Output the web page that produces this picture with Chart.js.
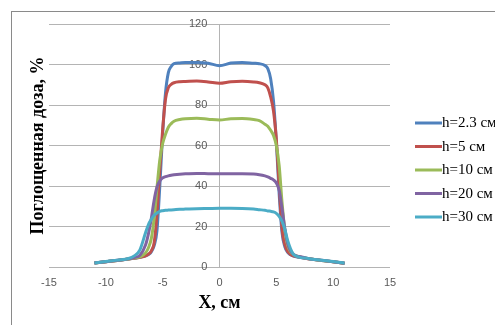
<!DOCTYPE html>
<html>
<head>
<meta charset="utf-8">
<script src="https://cdn.jsdelivr.net/npm/chart.js@4"></script>
<style>
  html, body { margin: 0; padding: 0; background: #ffffff; overflow: hidden; }
  #wrap { position: relative; width: 495px; height: 325px; }
</style>
</head>
<body>
<div id="wrap"><canvas id="doseChart" width="495" height="325"></canvas></div>
<script>
// position across the field, cm
const xValues = [-11, -10, -9, -8, -7.5, -7, -6.5, -6.25, -6, -5.75, -5.5, -5.25, -5, -4.75, -4.5, -4.25, -4, -3.5, -3, -2, -1,
  0, 1, 2, 3, 3.5, 4, 4.25, 4.5, 4.75, 5, 5.25, 5.5, 5.75, 6, 6.25, 6.5, 7, 7.5, 8, 9, 10, 11];

const seriesLabels = ['h=2.3 см', 'h=5 см', 'h=10 см', 'h=20 см', 'h=30 см'];
const seriesColors = ['#4f81bd', '#c0504d', '#9bbb59', '#8064a2', '#4bacc6'];

// absorbed dose, %
const dose23 = [2.0, 2.6, 3.2, 3.9, 4.3, 4.8, 5.5, 6.2, 7.5, 10.5, 18, 40, 66, 86, 96, 99, 100.4, 100.8, 101, 101, 100.6,
  99.4, 100.7, 101, 100.6, 100.4, 99.5, 98, 93, 82, 62, 36, 17, 10, 7.2, 6, 5.4, 4.8, 4.3, 3.9, 3.2, 2.6, 1.9];
const dose5 = [2.0, 2.6, 3.2, 3.9, 4.3, 4.8, 5.5, 6.3, 8, 12, 26, 48, 68, 83, 88.5, 90.2, 91, 91.5, 91.6, 91.8, 91.4,
  90.7, 91.5, 91.7, 91.4, 91, 90, 88.5, 84, 77, 63, 40, 19, 11, 7.6, 6.2, 5.5, 4.9, 4.4, 3.9, 3.2, 2.6, 1.9];
const dose10 = [2.0, 2.6, 3.2, 3.9, 4.4, 5.0, 7, 9.5, 14, 24, 39, 53, 61, 65.5, 69, 70.8, 72, 72.8, 73.2, 73.4, 73,
  72.6, 73.2, 73.3, 72.8, 72.3, 70.5, 69.5, 67.5, 65, 60, 50, 32, 18, 10.5, 7.5, 6.2, 5.1, 4.5, 4.0, 3.2, 2.6, 1.9];
const dose20 = [2.0, 2.6, 3.3, 4.0, 4.7, 5.8, 11, 16.5, 24, 33, 39.5, 42.5, 44, 44.6, 45, 45.3, 45.5, 45.8, 46, 46.2, 46.1,
  46, 46, 46, 45.9, 45.6, 45, 44.5, 43.8, 43, 41.5, 38, 29, 19, 11.5, 8, 6.2, 5.2, 4.6, 4.0, 3.3, 2.6, 1.9];
const dose30 = [2.0, 2.7, 3.4, 4.2, 5.5, 8.5, 17, 21, 23.5, 25.5, 26.7, 27.5, 27.8, 28, 28.1, 28.2, 28.3, 28.5, 28.6, 28.8, 28.9,
  29, 29, 28.9, 28.6, 28.3, 28, 27.7, 27.5, 27.2, 26.5, 25, 22.5, 18.5, 13, 9, 6.3, 4.9, 4.4, 4.0, 3.3, 2.7, 1.9];

const xTickValues = [-15, -10, -5, 0, 5, 10, 15];
const yTickValues = [0, 20, 40, 60, 80, 100, 120];

const allDoses = [dose23, dose5, dose10, dose20, dose30];

const tickFont = { family: 'Liberation Sans', size: 11 };
const gridColor = '#b4b4b4';

// outer frame and the legend on the right
const framePlugin = {
    id: 'frame',
    beforeDraw(chart) {
        const ctx = chart.ctx;
        ctx.save();
        ctx.strokeStyle = '#8a8a8a';
        ctx.lineWidth = 1;
        ctx.strokeRect(11.5, 11.5, 700, 500);
        ctx.restore();
    },
    afterDraw(chart) {
        const ctx = chart.ctx;
        ctx.save();
        ctx.font = '15px "Liberation Serif"';
        ctx.textBaseline = 'middle';
        ctx.fillStyle = '#000000';
        seriesLabels.forEach((label, i) => {
            const y = 123 + i * 23.5;
            ctx.strokeStyle = seriesColors[i];
            ctx.lineWidth = 3;
            ctx.beginPath();
            ctx.moveTo(415, y);
            ctx.lineTo(442, y);
            ctx.stroke();
            ctx.fillText(label, 442, y + 0.5);
        });
        ctx.restore();
    }
};

const datasets = seriesLabels.map((label, i) => ({
    label: label,
    data: xValues.map((x, j) => ({ x: x, y: allDoses[i][j] })),
    borderColor: seriesColors[i],
    backgroundColor: seriesColors[i],
    borderWidth: 3,
    pointRadius: 0,
    cubicInterpolationMode: 'monotone',
    order: seriesLabels.length - i
}));

new Chart(document.getElementById('doseChart'), {
    type: 'line',
    data: { datasets: datasets },
    options: {
        responsive: false,
        animation: false,
        devicePixelRatio: 1,
        layout: {
            padding: { left: 27.4, right: 105, top: 24, bottom: 11.2 }
        },
        plugins: {
            legend: { display: false },
            tooltip: { enabled: false }
        },
        scales: {
            x: {
                type: 'linear',
                position: 'bottom',
                min: -15,
                max: 15,
                afterBuildTicks: (scale) => { scale.ticks = xTickValues.map(v => ({ value: v })); },
                grid: { display: false, drawTicks: false },
                border: { display: false },
                ticks: { font: tickFont, color: '#595959', padding: 9, maxRotation: 0 },
                title: {
                    display: true,
                    text: 'X, см',
                    color: '#000000',
                    font: { family: 'Liberation Serif', size: 18, weight: 'bold' },
                    padding: { top: -6, bottom: 0 }
                }
            },
            y: {
                type: 'linear',
                position: { x: 0 },
                min: 0,
                max: 120,
                afterBuildTicks: (scale) => { scale.ticks = yTickValues.map(v => ({ value: v })); },
                grid: { color: gridColor, lineWidth: 1, drawTicks: false },
                border: { display: true, color: gridColor, width: 1 },
                ticks: {
                    font: tickFont,
                    color: '#595959',
                    callback: (v) => v + '    '
                }
            },
            yt: {
                type: 'linear',
                position: 'left',
                grid: { display: false, drawTicks: false },
                border: { display: false },
                ticks: { display: false },
                title: {
                    display: true,
                    text: 'Поглощенная доза, %',
                    color: '#000000',
                    font: { family: 'Liberation Serif', size: 18, weight: 'bold' },
                    padding: { top: 0, bottom: 0 }
                }
            }
        }
    },
    plugins: [framePlugin]
});
</script>
</body>
</html>
